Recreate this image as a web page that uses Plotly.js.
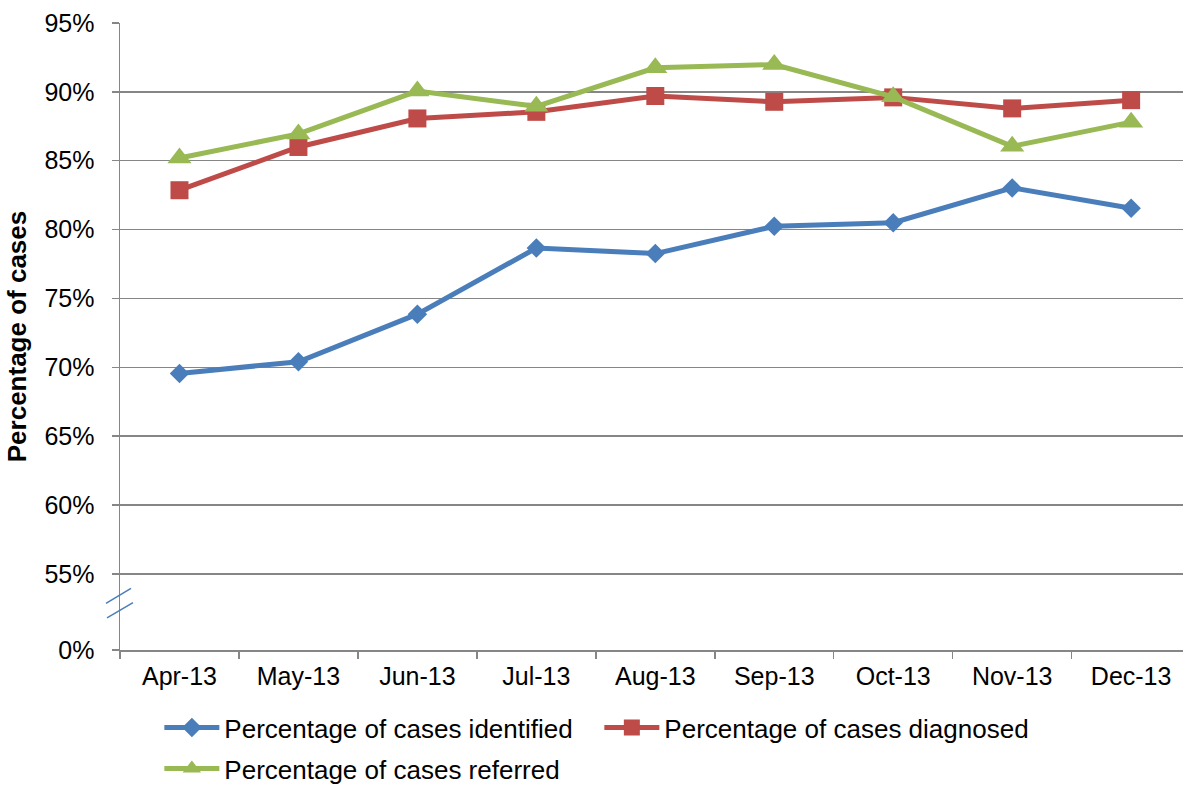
<!DOCTYPE html>
<html>
<head>
<meta charset="utf-8">
<script src="https://cdn.plot.ly/plotly-3.0.1.min.js"></script>
<style>html,body{margin:0;padding:0;background:#fff;}#chart{width:1183px;height:787px;}</style>
</head>
<body>
<div id="chart"></div>
<script>
const months = ["Apr-13","May-13","Jun-13","Jul-13","Aug-13","Sep-13","Oct-13","Nov-13","Dec-13"];
const identified = [69.56, 70.41, 73.86, 78.66, 78.26, 80.24, 80.5, 83.03, 81.55];
const diagnosed = [82.86, 86.0, 88.07, 88.55, 89.7, 89.28, 89.6, 88.8, 89.4];
const referred = [85.2, 86.95, 90.06, 88.95, 91.75, 91.98, 89.64, 86.05, 87.8];
const yTickVals = [49.48, 55, 60, 65, 70, 75, 80, 85, 90, 95];
const yTickText = ["0%", "55%", "60%", "65%", "70%", "75%", "80%", "85%", "90%", "95%"];

const FONT = "Liberation Sans, Arial, sans-serif";
const FS = 25;
const LFS = 26;

const traces = [
  {x: months, y: identified, name: "Percentage of cases identified", type: "scatter", mode: "lines+markers",
   line: {color: "#4A7EBB", width: 5}, marker: {symbol: "diamond", size: 15, color: "#4A7EBB"}, legend: "legend"},
  {x: months, y: diagnosed, name: "Percentage of cases diagnosed", type: "scatter", mode: "lines+markers",
   line: {color: "#BE4B48", width: 5}, marker: {symbol: "square", size: 18, color: "#BE4B48"}, legend: "legend"},
  {x: months, y: referred, name: "Percentage of cases referred", type: "scatter", mode: "lines+markers",
   line: {color: "#98B954", width: 5}, marker: {symbol: "triangle-up", size: 21, color: "#98B954"}, legend: "legend2"}
];

const layout = {
  width: 1183, height: 787,
  margin: {l: 120, r: 0, t: 23, b: 137},
  paper_bgcolor: "#fff", plot_bgcolor: "#fff",
  font: {family: FONT, size: FS, color: "#000"},
  showlegend: true,
  xaxis: {
    type: "category", range: [-0.5, 8.436],
    showline: true, linecolor: "#868686", linewidth: 1.5,
    showgrid: false, zeroline: false,
    ticks: "outside", tickson: "boundaries", ticklen: 7, tickcolor: "#868686", tickwidth: 1.5,
    ticklabelstandoff: 3,
    tickfont: {family: FONT, size: FS, color: "#000"}
  },
  yaxis: {
    range: [49.48, 95], tickmode: "array", tickvals: yTickVals, ticktext: yTickText,
    showline: true, linecolor: "#868686", linewidth: 1.5,
    showgrid: true, gridcolor: "#868686", gridwidth: 1.5, zeroline: false,
    ticks: "outside", ticklen: 7, tickcolor: "#868686", tickwidth: 1.5,
    ticklabelstandoff: 12,
    tickfont: {family: FONT, size: FS, color: "#000"},
    title: {text: "<b>Percentage of cases</b>", font: {family: FONT, size: 26, color: "#000"}, standoff: 10}
  },
  legend: {
    orientation: "h", xref: "container", yref: "container",
    x: 0.1347, y: 1 - 704/787, xanchor: "left", yanchor: "top",
    entrywidth: 370, entrywidthmode: "pixels",
    font: {family: FONT, size: LFS, color: "#000"}, bgcolor: "rgba(0,0,0,0)", itemwidth: 55
  },
  legend2: {
    orientation: "h", xref: "container", yref: "container",
    x: 0.1347, y: 1 - 745/787, xanchor: "left", yanchor: "top",
    font: {family: FONT, size: LFS, color: "#000"}, bgcolor: "rgba(0,0,0,0)", itemwidth: 55
  },
  shapes: [
    {type: "line", xref: "paper", yref: "y", xsizemode: "pixel", ysizemode: "pixel", xanchor: 0, yanchor: 52.9,
     x0: -14, x1: 11, y0: -0.4, y1: 14.6, line: {color: "#4A7EBB", width: 1.5}},
    {type: "line", xref: "paper", yref: "y", xsizemode: "pixel", ysizemode: "pixel", xanchor: 0, yanchor: 52.9,
     x0: -13, x1: 13, y0: -15, y1: 0.3, line: {color: "#4A7EBB", width: 1.5}}
  ]
};

Plotly.newPlot("chart", traces, layout, {displayModeBar: false, staticPlot: true});
</script>
</body>
</html>
